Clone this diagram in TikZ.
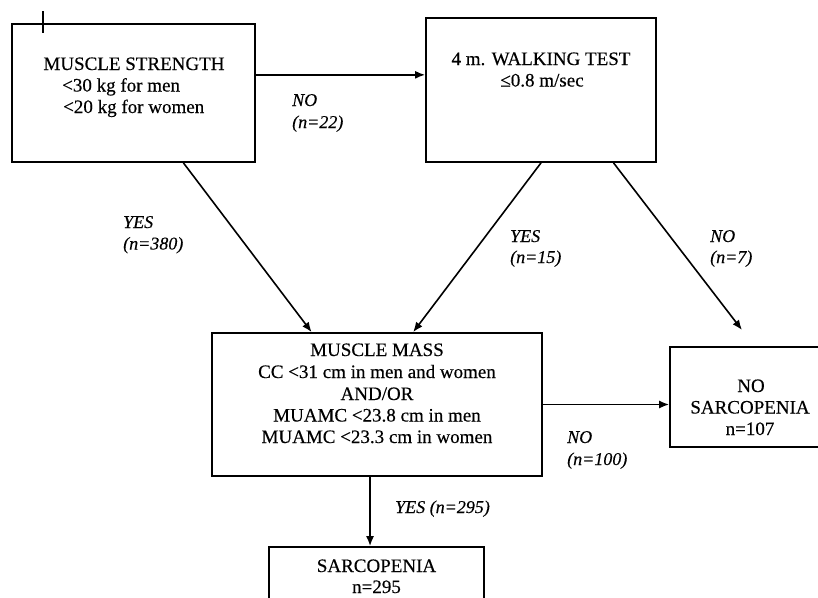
\documentclass[tikz,border=0pt]{standalone}
\usepackage{fontspec}
\setmainfont{Liberation Serif}
\newfontfamily\heavyfont{Liberation Serif}[FakeBold=0.35]
\usetikzlibrary{arrows.meta,calc}
\tikzset{
  box/.style={draw, line width=1.7pt, rectangle, inner sep=0pt},
  arr/.style={line width=1.6pt, -{Latex[length=10pt,width=8pt]}},
  plain/.style={line width=1.6pt},
  txt/.style={inner sep=0pt, font=\heavyfont\fontsize{19}{21.5}\selectfont},
  lbl/.style={inner sep=0pt, font=\heavyfont\fontsize{18}{21.5}\selectfont\itshape}
}
\begin{document}
\begin{tikzpicture}[x=1pt,y=-1pt]
\useasboundingbox (0,0) rectangle (818,597);
% boxes
\node[box, minimum width=243pt, minimum height=138pt] (ms) at (133.5,93) {};
\node[box, minimum width=230pt, minimum height=144pt] (ws) at (541,90) {};
\node[box, minimum width=330pt, minimum height=143pt] (mm) at (377,404.5) {};
\node[box, minimum width=160pt, minimum height=100pt] (ns) at (750,397) {};
\node[box, minimum width=215pt, minimum height=63pt] (sa) at (376.5,578.5) {};
% tick mark
\draw[plain] (43,11) -- (43,33);
% texts
\node[txt, anchor=base] (ms1) at (134,70) {MUSCLE STRENGTH};
\node[txt, anchor=base west] (ms2) at (62,91.5) {<30 kg for men};
\node[txt, anchor=base west] (ms3) at (63,113) {<20 kg for women};
\node[txt, anchor=base] (ws1) at (541,65) {4 m. WALKING TEST};
\node[txt, anchor=base] (ws2) at (542,86.5) {≤0.8 m/sec};
\node[txt, anchor=base] (mm1) at (377,356) {MUSCLE MASS};
\node[txt, anchor=base] (mm2) at (377,378) {CC <31 cm in men and women};
\node[txt, anchor=base] (mm3) at (377,400) {AND/OR};
\node[txt, anchor=base] (mm4) at (377,421.5) {MUAMC <23.8 cm in men};
\node[txt, anchor=base] (mm5) at (377,443) {MUAMC <23.3 cm in women};
\node[txt, anchor=base] (ns1) at (751,392) {NO};
\node[txt, anchor=base] (ns2) at (750,413.5) {SARCOPENIA};
\node[txt, anchor=base] (ns3) at (750,435) {n=107};
\node[txt, anchor=base] (sa1) at (376.5,572) {SARCOPENIA};
\node[txt, anchor=base] (sa2) at (376.5,593) {n=295};
% labels
\node[lbl, anchor=base west] (l1a) at (292,106) {NO};
\node[lbl, anchor=base west] (l1b) at (292,128) {(n=22)};
\node[lbl, anchor=base west] (l2a) at (123,228) {YES};
\node[lbl, anchor=base west] (l2b) at (123,249.5) {(n=380)};
\node[lbl, anchor=base west] (l3a) at (510,242) {YES};
\node[lbl, anchor=base west] (l3b) at (510,263) {(n=15)};
\node[lbl, anchor=base west] (l4a) at (710,242) {NO};
\node[lbl, anchor=base west] (l4b) at (710,263) {(n=7)};
\node[lbl, anchor=base west] (l5a) at (567,443) {NO};
\node[lbl, anchor=base west] (l5b) at (567,465) {(n=100)};
\node[lbl, anchor=base west] (l6) at (395,513) {YES (n=295)};
% connectors
\coordinate (s1) at ($(ms.north east)!0.37!(ms.south east)$);
\draw[arr] (s1) -- (s1 -| ws.west);
\draw[arr] ($(ms.south west)!0.704!(ms.south east)$) -- ($(mm.north west)!0.303!(mm.north east)$);
\draw[arr] ($(ws.south west)!0.5!(ws.south east)$) -- ($(mm.north west)!0.609!(mm.north east)$);
\coordinate (n7end) at (742,330);
\draw[arr] ($(ws.south west)!0.813!(ws.south east)$) -- (n7end);
\draw[arr] (mm.east) -- (mm.east -| ns.west);
\coordinate (s2) at ($(mm.south west)!0.479!(mm.south east)$);
\draw[arr] (s2) -- (s2 |- sa.north);
\end{tikzpicture}
\end{document}
